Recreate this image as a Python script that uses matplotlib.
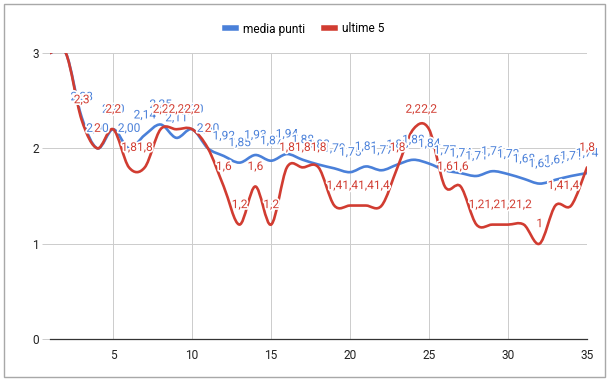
import matplotlib.pyplot as plt
import matplotlib.patheffects as pe
from matplotlib.path import Path
from matplotlib.patches import PathPatch, Rectangle
from matplotlib.transforms import Bbox, TransformedBbox

plt.rcParams['font.family'] = ['Roboto', 'DejaVu Sans']

giornate = list(range(1, 36))
media_punti = [3.00, 3.00, 2.33, 2.00, 2.20, 2.00, 2.14, 2.25, 2.11, 2.20,
               2.00, 1.92, 1.85, 1.93, 1.87, 1.94, 1.88, 1.83, 1.79, 1.75,
               1.81, 1.77, 1.83, 1.88, 1.84, 1.77, 1.74, 1.71, 1.76, 1.73,
               1.68, 1.63, 1.67, 1.71, 1.74]
ultime_5 = [3.0, 3.0, 2.3, 2.0, 2.2, 1.8, 1.8, 2.2, 2.2, 2.2,
            2.0, 1.6, 1.2, 1.6, 1.2, 1.8, 1.8, 1.8, 1.4, 1.4,
            1.4, 1.4, 1.8, 2.2, 2.2, 1.6, 1.6, 1.2, 1.2, 1.2,
            1.2, 1.0, 1.4, 1.4, 1.8]
x_ticks = [5, 10, 15, 20, 25, 30, 35]
y_ticks = [0, 1, 2, 3]

BLUE = '#4a80d9'
RED = '#d13c31'
Y_MAX = 3


def smooth_path(xs, ys):
    # catmull-rom style curve, like the "function" curve of the sheets chart
    n = len(xs)
    verts = [(xs[0], ys[0])]
    codes = [Path.MOVETO]
    for i in range(n - 1):
        a = max(i - 1, 0)
        b = min(i + 2, n - 1)
        c1 = (xs[i] + (xs[i + 1] - xs[a]) / 6, ys[i] + (ys[i + 1] - ys[a]) / 6)
        c2 = (xs[i + 1] - (xs[b] - xs[i]) / 6, ys[i + 1] - (ys[b] - ys[i]) / 6)
        verts += [c1, c2, (xs[i + 1], ys[i + 1])]
        codes += [Path.CURVE4, Path.CURVE4, Path.CURVE4]
    return Path(verts, codes)


def fmt_media(v):
    return f"{v:.2f}".replace('.', ',')


def fmt_ultime(v):
    s = f"{v:.1f}"
    if s.endswith('.0'):
        s = s[:-2]
    return s.replace('.', ',')


fig = plt.figure(figsize=(6.09, 3.79), dpi=100)
ax = fig.add_axes([50 / 609, 1 - 339 / 379, 537 / 609, 286 / 379])

ax.set_xlim(1, 35)
ax.set_ylim(0, Y_MAX)

for spine in ['top', 'right', 'left']:
    ax.spines[spine].set_visible(False)
ax.spines['bottom'].set_color('#333333')
ax.spines['bottom'].set_linewidth(0.9)
ax.spines['bottom'].set_zorder(3)

ax.set_xticks(x_ticks)
ax.set_yticks(y_ticks)
ax.tick_params(axis='x', length=0, pad=7, labelsize=8.6, labelcolor='#222222')
ax.tick_params(axis='y', length=6, width=0.7, color='#cccccc', pad=2,
               labelsize=8.6, labelcolor='#222222')
ax.grid(True, color='#cccccc', linewidth=0.7)
ax.set_axisbelow(True)

lines = [(media_punti, BLUE, 'media punti', fmt_media),
         (ultime_5, RED, 'ultime 5', fmt_ultime)]

for values, color, name, _ in lines:
    patch = PathPatch(smooth_path(giornate, values), fill=False,
                      edgecolor=color, linewidth=1.9, capstyle='round',
                      joinstyle='round', zorder=4)
    ax.add_patch(patch)
    ax.plot([], [], color=color, linewidth=4, label=name)

# labels are cut at top/bottom of the plot area but may run past the sides
clip = TransformedBbox(Bbox([[-0.1, 0.0], [1.1, 1.0]]), ax.transAxes)
for values, color, _, fmt in lines:
    for x, v in zip(giornate, values):
        if v >= Y_MAX:
            # label would sit above the plot area, the chart hides it
            continue
        t = ax.annotate(fmt(v), (x, v), xytext=(0, 20), textcoords='offset pixels',
                        ha='center', va='center', color=color, fontsize=8.6,
                        annotation_clip=False, zorder=5,
                        path_effects=[pe.withStroke(linewidth=2.5, foreground='white')])
        t.set_clip_on(True)
        t.set_clip_box(clip)

fig.legend(loc='center', bbox_to_anchor=(0.5, 1 - 29 / 379), ncol=2,
           frameon=False, fontsize=8.6, handlelength=0.9, handletextpad=0.6,
           columnspacing=1.6)

fig.patches.append(Rectangle((4 / 609, 2 / 379), 601 / 609, 373 / 379,
                             transform=fig.transFigure, fill=False,
                             edgecolor='#a8a8a8', linewidth=1.0))

fig.savefig('out.png', dpi=100)
